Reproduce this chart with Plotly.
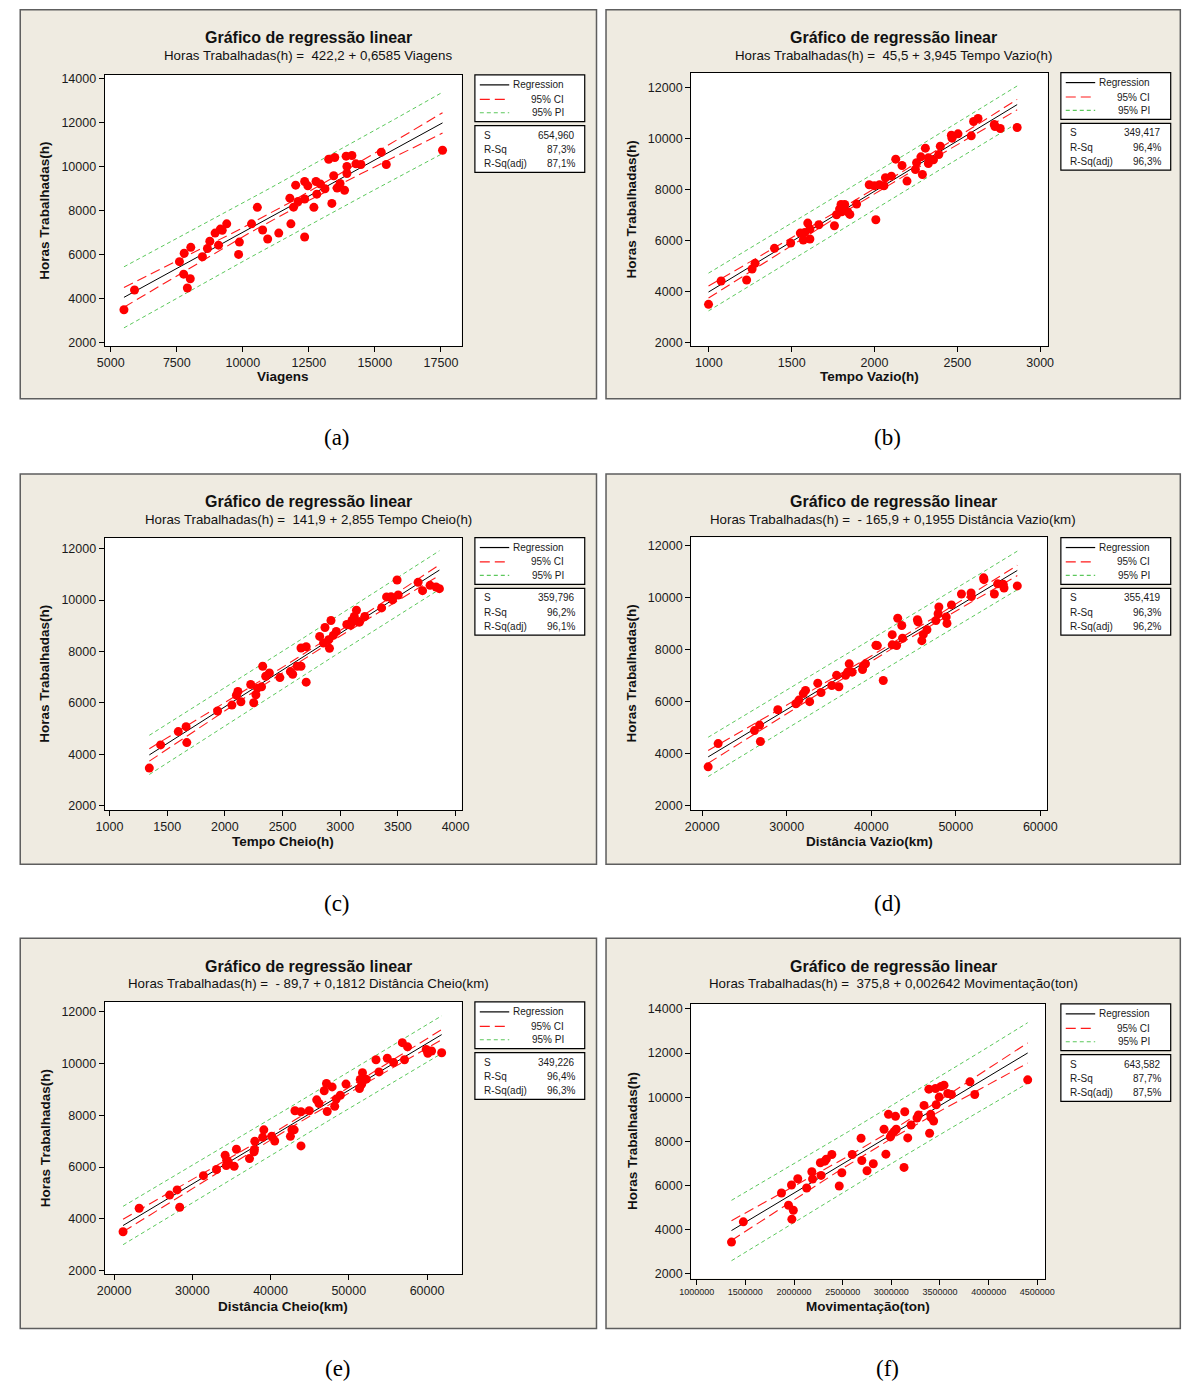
import numpy as np
import plotly.graph_objects as go

W, H = 1192, 1387

# ---------------- data: one x series and one y series per panel ----------------
viagens = [5500, 5900, 7600, 7780, 7760, 7900, 8030, 8010, 8470, 8660, 8750, 9080, 8950, 9150,
           9220, 9390, 9840, 9870, 10330, 10550, 10750, 10940, 11360, 11780, 11820, 11920, 12000,
           12090, 12340, 12340, 12340, 12460, 12690, 12770, 12800, 12940, 13110, 13250, 13370,
           13440, 13480, 13570, 13680, 13850, 13910, 13940, 13940, 14130, 14280, 14470, 15240,
           15430, 17560]
horas_a = [3480, 4380, 5670, 6050, 5100, 4470, 6320, 4890, 5890, 6270, 6600, 6420, 6970, 7150,
           7100, 7390, 6000, 6560, 7390, 8140, 7110, 6700, 6970, 8560, 7390, 8150, 9150, 8410,
           9320, 8520, 6790, 9120, 8140, 9320, 8740, 9200, 8990, 10330, 8320, 9580, 10410, 9020,
           9230, 8920, 10470, 10000, 9680, 10500, 10120, 10090, 10650, 10090, 10740]

tempo_vazio = [998, 1074, 1228, 1261, 1279, 1396, 1494, 1552, 1570, 1579, 1597, 1610, 1610, 1664,
               1758, 1771, 1789, 1798, 1802, 1820, 1838, 1851, 1892, 1968, 1999, 2008, 2030, 2057,
               2066, 2102, 2128, 2166, 2196, 2247, 2254, 2280, 2289, 2307, 2325, 2325, 2356, 2388,
               2397, 2464, 2468, 2504, 2584, 2598, 2625, 2723, 2727, 2759, 2861]
horas_b = [3500, 4415, 4454, 4885, 5107, 5695, 5903, 6295, 6021, 6321, 6687, 6452, 6060, 6622,
           6582, 7013, 7235, 7418, 7130, 7418, 7130, 7026, 7431, 8188, 8149, 6817, 8188, 8149,
           8462, 8527, 9193, 8945, 8332, 8789, 9050, 9285, 8593, 9624, 9245, 9024, 9167, 9376,
           9702, 10133, 10016, 10185, 10107, 10668, 10786, 10551, 10473, 10394, 10433]

tempo_cheio = [1345, 1443, 1596, 1664, 1670, 1937, 2061, 2113, 2100, 2139, 2224, 2250, 2269, 2282,
               2318, 2328, 2354, 2386, 2477, 2568, 2588, 2627, 2660, 2660, 2705, 2705, 2822, 2855,
               2868, 2900, 2907, 2920, 2940, 2966, 3057, 3089, 3102, 3122, 3141, 3154, 3167, 3213,
               3359, 3402, 3441, 3454, 3493, 3503, 3675, 3714, 3779, 3831, 3860]
horas_c = [3469, 4371, 4887, 5080, 4461, 5686, 5918, 6446, 6304, 6047, 6716, 6008, 6317, 6575,
           6626, 7425, 7039, 7168, 6987, 7219, 7116, 7425, 7425, 8134, 8186, 6807, 8585, 8327,
           8933, 8456, 8121, 9204, 8624, 8778, 9049, 9023, 9204, 9358, 9603, 9152, 9139, 9358,
           9693, 10119, 10131, 10003, 10776, 10196, 10686, 10364, 10570, 10505, 10441]

dist_vazio = [20700, 21880, 26180, 26790, 26880, 28940, 31080, 31440, 31960, 32220, 32710, 33670,
              34060, 35330, 35900, 36170, 36960, 37220, 37390, 37740, 38970, 39060, 39320, 40550,
              40720, 41420, 42480, 42480, 43000, 43130, 43610, 43700, 45460, 45540, 45980, 46160,
              46590, 47650, 47910, 48000, 48870, 48960, 49490, 50670, 51810, 51850, 53300, 53340,
              54570, 54960, 55620, 55710, 57280]
horas_d = [3500, 4390, 4890, 5100, 4470, 5690, 5920, 6060, 6310, 6430, 6000, 6710, 6350, 6620,
           7010, 6570, 7010, 7140, 7450, 7130, 7230, 7380, 7450, 8160, 8150, 6810, 8570, 8180,
           8150, 9200, 8920, 8430, 9140, 9060, 8340, 8580, 8760, 9110, 9370, 9630, 9250, 9000,
           9710, 10130, 10170, 10030, 10750, 10680, 10130, 10520, 10500, 10360, 10440]

dist_cheio = [21150, 23210, 27100, 28060, 28390, 31420, 33090, 34200, 34390, 34340, 34600, 35350,
              35640, 37310, 37890, 37990, 37940, 38990, 39140, 40140, 40530, 42540, 42730, 43020,
              43120, 43890, 43890, 44940, 45900, 46190, 46860, 47150, 47240, 47870, 48200, 48390,
              48920, 49640, 51370, 51460, 51660, 51750, 52230, 53480, 53860, 54920, 55730, 56840,
              57120, 57510, 59900, 60100, 60580, 61870]
horas_e = [3500, 4410, 4920, 5120, 4450, 5670, 5910, 6460, 6270, 6060, 6200, 6030, 6690, 6330,
           6590, 7000, 6680, 7150, 7440, 7190, 7010, 7190, 7440, 7440, 8180, 8140, 6820, 8180,
           8600, 8460, 8950, 9230, 8150, 9100, 8350, 8630, 8780, 9210, 9040, 9390, 9210, 9650,
           9400, 10150, 9680, 10210, 10040, 10810, 10150, 10650, 10550, 10400, 10490, 10420]

movimentacao = [1357600, 1479300, 1871200, 1943500, 1973900, 1992900, 1977700, 2038600, 2129900,
                2183100, 2190700, 2270600, 2278200, 2316300, 2331500, 2388600, 2464700, 2491300,
                2597800, 2689100, 2696700, 2749900, 2814600, 2924900, 2944000, 2970600, 2989600,
                3001000, 3027600, 3042800, 3050400, 3130400, 3138000, 3168400, 3202700, 3263600,
                3278800, 3335900, 3385400, 3393000, 3404400, 3408200, 3434800, 3453800, 3461400,
                3491900, 3510900, 3541300, 3579400, 3617400, 3807600, 3857000, 4401100]
horas_f = [3441, 4357, 5664, 5109, 6025, 4883, 4478, 6310, 5890, 6625, 6295, 7031, 6460, 7106,
           7196, 7406, 5980, 6580, 7406, 8142, 7136, 6671, 6986, 8548, 7421, 9224, 8202, 8308,
           8443, 9134, 8548, 6821, 9344, 8157, 8743, 9059, 9194, 9629, 10365, 8368, 9224, 9074,
           8924, 10395, 9659, 10005, 10485, 10545, 10170, 10125, 10696, 10125, 10786]

# fitted models: intercept, slope, S, R-Sq, R-Sq(adj)
intercepts = [422.2, 45.5, 141.9, -165.9, -89.7, 375.8]
slopes = [0.6585, 3.945, 2.855, 0.1955, 0.1812, 0.002642]
s_values = [654.960, 349.417, 359.796, 355.419, 349.226, 643.582]
r_sq = [87.3, 96.4, 96.2, 96.3, 96.4, 87.7]
r_sq_adj = [87.1, 96.3, 96.1, 96.2, 96.3, 87.5]

x_names = ["Viagens", "Tempo Vazio(h)", "Tempo Cheio(h)", "Distância Vazio(km)",
           "Distância Cheio(km)", "Movimentação(ton)"]
captions = ["(a)", "(b)", "(c)", "(d)", "(e)", "(f)"]

x_ticks = [[5000, 7500, 10000, 12500, 15000, 17500],
           [1000, 1500, 2000, 2500, 3000],
           [1000, 1500, 2000, 2500, 3000, 3500, 4000],
           [20000, 30000, 40000, 50000, 60000],
           [20000, 30000, 40000, 50000, 60000],
           [1000000, 1500000, 2000000, 2500000, 3000000, 3500000, 4000000, 4500000]]
y_ticks_14 = [2000, 4000, 6000, 8000, 10000, 12000, 14000]
y_ticks_12 = [2000, 4000, 6000, 8000, 10000, 12000]
y_ticks = [y_ticks_14, y_ticks_12, y_ticks_12, y_ticks_12, y_ticks_12, y_ticks_14]

xs_data = [viagens, tempo_vazio, tempo_cheio, dist_vazio, dist_cheio, movimentacao]
ys_data = [horas_a, horas_b, horas_c, horas_d, horas_e, horas_f]

# axis ranges
x_ranges = [[4770, 18280], [893, 3045], [958, 4052], [18686, 60789], [18801, 64412],
            [942935, 4583700]]
y_ranges = [[1818, 14168], [1856, 12574], [1845, 12425], [1847, 12305], [1859, 12385],
            [1790, 14225]]

# ---------------- layout geometry (pixels) ----------------
plot_px = [(94.5, 72.3, 458.4, 345), (692.5, 70.3, 1056, 345),
           (94.5, 537.3, 458.4, 811), (692.5, 537, 1055.3, 811),
           (94.5, 1004, 458.4, 1277.7), (692.5, 1006, 1053.8, 1282)]
frame_px = [(8.4, 6.7, 596, 397.7), (605.7, 6.7, 1191.3, 397.7),
            (8.4, 473.3, 596, 865.7), (605.7, 473.3, 1191.3, 865.7),
            (8.4, 940, 596, 1332.3), (605.7, 940, 1191.3, 1332.3)]
legend_px = [(472, 72.3), (1069.5, 70), (472, 537.3), (1069.5, 537.3), (472, 1004), (1069.5, 1006)]
xtitle_y = [375.7, 375.7, 842.3, 842.3, 1309.7, 1309.7]
ytitle_x = [33.7, 632, 33.7, 632, 33.7, 632]
caption_xy = [(331, 437), (893, 437), (331, 905), (893, 905), (332, 1372), (893, 1372)]

FONT = "Liberation Sans, Arial, sans-serif"
SERIF = "Liberation Serif, Times New Roman, serif"
BEIGE = "#EFEBE1"
CI_COLOR = "#FF1A1A"
PI_COLOR = "#5CC85C"
CI_DASH = "10px,5px"
PI_DASH = "4px,3px"


def px(x):
    return x / W


def py(y):
    return 1 - y / H


def t975(df):
    # Cornish-Fisher expansion of the Student t 97.5% quantile
    z = 1.959964
    return (z + (z ** 3 + z) / (4 * df)
            + (5 * z ** 5 + 16 * z ** 3 + 3 * z) / (96 * df ** 2)
            + (3 * z ** 7 + 19 * z ** 5 + 17 * z ** 3 - 15 * z) / (384 * df ** 3))


def dec(v):
    return str(v).replace(".", ",")


def equation(b0, b1, name):
    b0_txt = ("- " + dec(-b0)) if b0 < 0 else dec(b0)
    return f"Horas Trabalhadas(h) =  {b0_txt} + {dec(b1)} {name}"


fig = go.Figure()
shapes = []
annotations = []

for i in range(6):
    n_ax = "" if i == 0 else str(i + 1)
    xref, yref = "x" + n_ax, "y" + n_ax
    x = np.array(xs_data[i], dtype=float)
    y = np.array(ys_data[i], dtype=float)
    b0, b1, s = intercepts[i], slopes[i], s_values[i]

    # regression line with confidence and prediction bands
    n = len(x)
    xbar = x.mean()
    sxx = ((x - xbar) ** 2).sum()
    t = t975(n - 2)
    grid = np.linspace(x.min(), x.max(), 150)
    fit = b0 + b1 * grid
    se_fit = s * np.sqrt(1.0 / n + (grid - xbar) ** 2 / sxx)
    ci = t * se_fit
    pi = t * np.sqrt(s ** 2 + se_fit ** 2)

    common = dict(xaxis=xref, yaxis=yref, showlegend=False, hoverinfo="skip", mode="lines")
    fig.add_trace(go.Scatter(x=grid, y=fit + pi, line=dict(color=PI_COLOR, width=1, dash=PI_DASH), **common))
    fig.add_trace(go.Scatter(x=grid, y=fit - pi, line=dict(color=PI_COLOR, width=1, dash=PI_DASH), **common))
    fig.add_trace(go.Scatter(x=grid, y=fit + ci, line=dict(color=CI_COLOR, width=1.1, dash=CI_DASH), **common))
    fig.add_trace(go.Scatter(x=grid, y=fit - ci, line=dict(color=CI_COLOR, width=1.1, dash=CI_DASH), **common))
    fig.add_trace(go.Scatter(x=grid, y=fit, line=dict(color="black", width=1), **common))
    fig.add_trace(go.Scatter(x=x, y=y, mode="markers", xaxis=xref, yaxis=yref, showlegend=False,
                             marker=dict(color="#FF0000", size=9, line=dict(width=0))))

    pl, pt, pr, pb = plot_px[i]
    tick_size = 9 if i == 5 else 12.5
    fig.update_layout(**{
        "xaxis" + n_ax: dict(domain=[px(pl), px(pr)], range=x_ranges[i], anchor=yref,
                             tickvals=x_ticks[i], tickformat="d", ticks="outside", ticklen=5,
                             tickcolor="black", showline=True, mirror=True, linecolor="black",
                             linewidth=1, showgrid=False, zeroline=False,
                             tickfont=dict(family=FONT, size=tick_size, color="#1a1a1a")),
        "yaxis" + n_ax: dict(domain=[py(pb), py(pt)], range=y_ranges[i], anchor=xref,
                             tickvals=y_ticks[i], tickformat="d", ticks="outside", ticklen=5,
                             tickcolor="black", showline=True, mirror=True, linecolor="black",
                             linewidth=1, showgrid=False, zeroline=False,
                             tickfont=dict(family=FONT, size=12.5, color="#1a1a1a")),
    })

    # panel background and white data region
    fl, ft, fr, fb = frame_px[i]
    shapes.append(dict(type="rect", xref="paper", yref="paper", layer="below",
                       x0=px(fl), x1=px(fr), y0=py(fb), y1=py(ft),
                       fillcolor=BEIGE, line=dict(color="#5E5E5E", width=1.5)))
    shapes.append(dict(type="rect", xref="paper", yref="paper", layer="below",
                       x0=px(pl), x1=px(pr), y0=py(pb), y1=py(pt),
                       fillcolor="white", line=dict(width=0)))

    # legend and statistics boxes
    lx, ly = legend_px[i]
    bw, bh = 112, 47
    for top in (ly, ly + 51):
        shapes.append(dict(type="rect", xref="paper", yref="paper",
                           x0=px(lx), x1=px(lx + bw), y0=py(top + bh), y1=py(top),
                           fillcolor="white", line=dict(color="black", width=1.2)))
    rows = [ly + 10, ly + 24.5, ly + 38]
    samples = [("black", "solid"), (CI_COLOR, CI_DASH), (PI_COLOR, PI_DASH)]
    labels = ["Regression", "95% CI", "95% PI"]
    for ry, (col, dash), lab in zip(rows, samples, labels):
        shapes.append(dict(type="line", xref="paper", yref="paper",
                           x0=px(lx + 5), x1=px(lx + 35), y0=py(ry), y1=py(ry),
                           line=dict(color=col, width=1.2, dash=dash)))
        annotations.append(dict(xref="paper", yref="paper", x=px(lx + 93), y=py(ry),
                                xanchor="right", yanchor="middle", showarrow=False, text=lab,
                                font=dict(family=FONT, size=10, color="#1a1a1a")))
    stat_rows = [ly + 51 + 9.5, ly + 51 + 24, ly + 51 + 38]
    stat_names = ["S", "R-Sq", "R-Sq(adj)"]
    stat_vals = [f"{s:.3f}".replace(".", ","), dec(f"{r_sq[i]:.1f}") + "%",
                 dec(f"{r_sq_adj[i]:.1f}") + "%"]
    for ry, nm, vl in zip(stat_rows, stat_names, stat_vals):
        annotations.append(dict(xref="paper", yref="paper", x=px(lx + 7), y=py(ry),
                                xanchor="left", yanchor="middle", showarrow=False, text=nm,
                                font=dict(family=FONT, size=10, color="#1a1a1a")))
        annotations.append(dict(xref="paper", yref="paper", x=px(lx + 104), y=py(ry),
                                xanchor="right", yanchor="middle", showarrow=False, text=vl,
                                font=dict(family=FONT, size=10, color="#1a1a1a")))

    # titles
    cx = (fl + fr) / 2
    annotations.append(dict(xref="paper", yref="paper", x=px(cx), y=py(ft + 28),
                            xanchor="center", yanchor="middle", showarrow=False,
                            text="<b>Gráfico de regressão linear</b>",
                            font=dict(family=FONT, size=16, color="#111")))
    annotations.append(dict(xref="paper", yref="paper", x=px(cx), y=py(ft + 45.7),
                            xanchor="center", yanchor="middle", showarrow=False,
                            text=equation(b0, b1, x_names[i]),
                            font=dict(family=FONT, size=13.3, color="#111")))
    annotations.append(dict(xref="paper", yref="paper", x=px((pl + pr) / 2), y=py(xtitle_y[i]),
                            xanchor="center", yanchor="middle", showarrow=False,
                            text="<b>" + x_names[i] + "</b>",
                            font=dict(family=FONT, size=13.5, color="#111")))
    annotations.append(dict(xref="paper", yref="paper", x=px(ytitle_x[i]), y=py((pt + pb) / 2),
                            xanchor="center", yanchor="middle", showarrow=False, textangle=-90,
                            text="<b>Horas Trabalhadas(h)</b>",
                            font=dict(family=FONT, size=13.5, color="#111")))
    cxp, cyp = caption_xy[i]
    annotations.append(dict(xref="paper", yref="paper", x=px(cxp), y=py(cyp),
                            xanchor="center", yanchor="middle", showarrow=False,
                            text=captions[i], font=dict(family=SERIF, size=23, color="black")))

fig.update_layout(width=W, height=H, margin=dict(l=0, r=0, t=0, b=0),
                  paper_bgcolor="white", plot_bgcolor="white",
                  shapes=shapes, annotations=annotations, showlegend=False)

# page body without default margins so the figure fills the window exactly
fig.write_html("out.html", config={"displayModeBar": False},
               post_script="document.body.style.margin='0';document.body.style.overflow='hidden';")
